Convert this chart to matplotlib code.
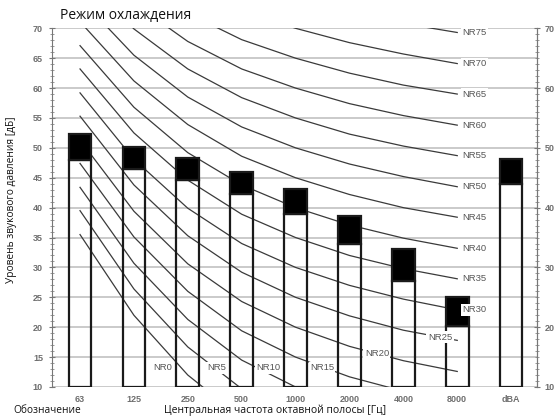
import numpy as np
import matplotlib
matplotlib.use("Agg")
import matplotlib.pyplot as plt
from matplotlib.ticker import MultipleLocator

plt.rcParams['font.family'] = ['Open Sans', 'DejaVu Sans']

# Bars: octave bands + overall dBA
bands = ['63', '125', '250', '500', '1000', '2000', '4000', '8000', 'dBA']
level_low = [48.0, 46.5, 44.7, 42.2, 39.0, 34.0, 27.8, 20.2, 43.9]   # white part top
level_high = [52.4, 50.2, 48.3, 46.0, 43.2, 38.6, 33.0, 25.0, 48.1]  # black part top

# NR curves, values at 63 ... 8000 Hz
nr_levels = [0, 5, 10, 15, 20, 25, 30, 35, 40, 45, 50, 55, 60, 65, 70, 75]
nr_curves = [
    [35.5, 22.0, 12.0, 4.8, 0.0, -3.5, -6.1, -8.0],
    [39.5, 26.4, 16.7, 9.7, 5.0, 1.6, -1.0, -2.9],
    [43.4, 30.7, 21.3, 14.5, 10.0, 6.7, 4.2, 2.3],
    [47.4, 35.1, 26.0, 19.4, 15.0, 11.7, 9.3, 7.5],
    [51.3, 39.4, 30.6, 24.3, 20.0, 16.8, 14.4, 12.6],
    [55.3, 43.8, 35.3, 29.2, 25.0, 21.9, 19.5, 17.8],
    [59.2, 48.1, 39.9, 34.0, 30.0, 27.0, 24.7, 22.9],
    [63.2, 52.5, 44.6, 38.9, 35.0, 32.0, 29.8, 28.1],
    [67.1, 56.8, 49.2, 43.8, 40.0, 37.1, 34.9, 33.2],
    [71.1, 61.2, 53.9, 48.6, 45.0, 42.2, 40.0, 38.4],
    [75.0, 65.5, 58.5, 53.5, 50.0, 47.3, 45.2, 43.5],
    [79.0, 69.9, 63.2, 58.4, 55.0, 52.3, 50.3, 48.7],
    [82.9, 74.2, 67.8, 63.2, 60.0, 57.4, 55.4, 53.8],
    [86.9, 78.6, 72.5, 68.1, 65.0, 62.5, 60.5, 59.0],
    [90.8, 82.9, 77.1, 73.0, 70.0, 67.6, 65.7, 64.1],
    [94.8, 87.3, 81.8, 77.9, 75.0, 72.6, 70.8, 69.3],
]

fig = plt.figure(figsize=(5.55, 4.17), dpi=100)
ax = fig.add_axes([52 / 555, 1 - 387 / 417, 485 / 555, 358.7 / 417])

x = np.arange(len(bands))
xc = x[:8]

# grid
for v in range(10, 71, 5):
    ax.axhline(v, color='#c6c6c6', lw=1.3, zorder=0)

# NR curves
for lvl, vals in zip(nr_levels, nr_curves):
    ax.plot(xc, vals, color='#3a3a3a', lw=0.9, zorder=2)

# bars
w = 0.42
low = np.array(level_low)
high = np.array(level_high)
ax.bar(x, low - 10, bottom=10, width=w, facecolor='none', edgecolor='#1a1a1a', lw=1.6, zorder=3)
ax.bar(x, high - low, bottom=low, width=w, facecolor='black', edgecolor='#1a1a1a', lw=1.6, zorder=3)

# NR labels
lab_kw = dict(fontsize=6.8, color='#555555', family=['Liberation Sans', 'DejaVu Sans'],
              va='center', zorder=5,
              bbox=dict(boxstyle='square,pad=0.15', fc='white', ec='none'))
for lvl, vals in zip(nr_levels, nr_curves):
    name = 'NR%d' % lvl
    if lvl >= 30:
        ax.text(7.1, vals[-1], name, ha='left', **lab_kw)
    elif lvl >= 20:
        xp = {20: 5.51, 25: 6.68}[lvl]
        ax.text(xp, np.interp(xp, xc, vals), name, ha='center', **lab_kw)
    else:
        xp = {0: 1.54, 5: 2.54, 10: 3.49, 15: 4.49}[lvl]
        ax.text(xp, 13.2, name, ha='center', **lab_kw)

ax.set_xlim(-0.52, 8.48)
ax.set_ylim(10, 70)

tick_font = dict(family=['Liberation Sans', 'DejaVu Sans'], size=6.5, weight='bold')
ax.set_xticks(x)
ax.set_xticklabels(bands, color='#6e6e6e', **tick_font)
ax.tick_params(axis='x', length=0, pad=6)
ax.set_yticks(range(10, 71, 5))
ax.set_yticklabels([str(v) for v in range(10, 71, 5)], color='#6e6e6e', **tick_font)
ax.yaxis.set_minor_locator(MultipleLocator(1))
ax.tick_params(axis='y', which='major', direction='inout', length=5, width=0.8, color='#777777', pad=4)
ax.tick_params(axis='y', which='minor', direction='inout', length=3, width=0.6, color='#888888')

for s in ['top', 'bottom']:
    ax.spines[s].set_visible(False)
ax.spines['left'].set_color('#777777')
ax.spines['right'].set_color('#777777')

ax2 = ax.twinx()
ax2.set_ylim(10, 70)
ax2.set_yticks(range(10, 71, 10))
ax2.set_yticklabels([str(v) for v in range(10, 71, 10)], color='#6e6e6e', **tick_font)
ax2.yaxis.set_minor_locator(MultipleLocator(1))
ax2.tick_params(axis='y', which='major', direction='inout', length=5, width=0.8, color='#777777', pad=3)
ax2.tick_params(axis='y', which='minor', direction='inout', length=3, width=0.6, color='#888888')
for s in ['top', 'bottom', 'left']:
    ax2.spines[s].set_visible(False)
ax2.spines['right'].set_color('#777777')

fig.text(60 / 555, 1 - 15 / 417, 'Режим охлаждения', fontsize=10, color='#111111', va='center', ha='left')
fig.text(12 / 555, 1 - 200 / 417, 'Уровень звукового давления [дБ]', fontsize=7.3, rotation=90,
         va='center', ha='center', color='#111111')
fig.text(275 / 555, 1 - 410 / 417, 'Центральная частота октавной полосы [Гц]', fontsize=7.5,
         va='center', ha='center', color='#111111')
fig.text(13 / 555, 1 - 405 / 417, 'Обозначение', fontsize=7.3, va='top', ha='left', color='#111111')

fig.savefig('out.png', dpi=100)
